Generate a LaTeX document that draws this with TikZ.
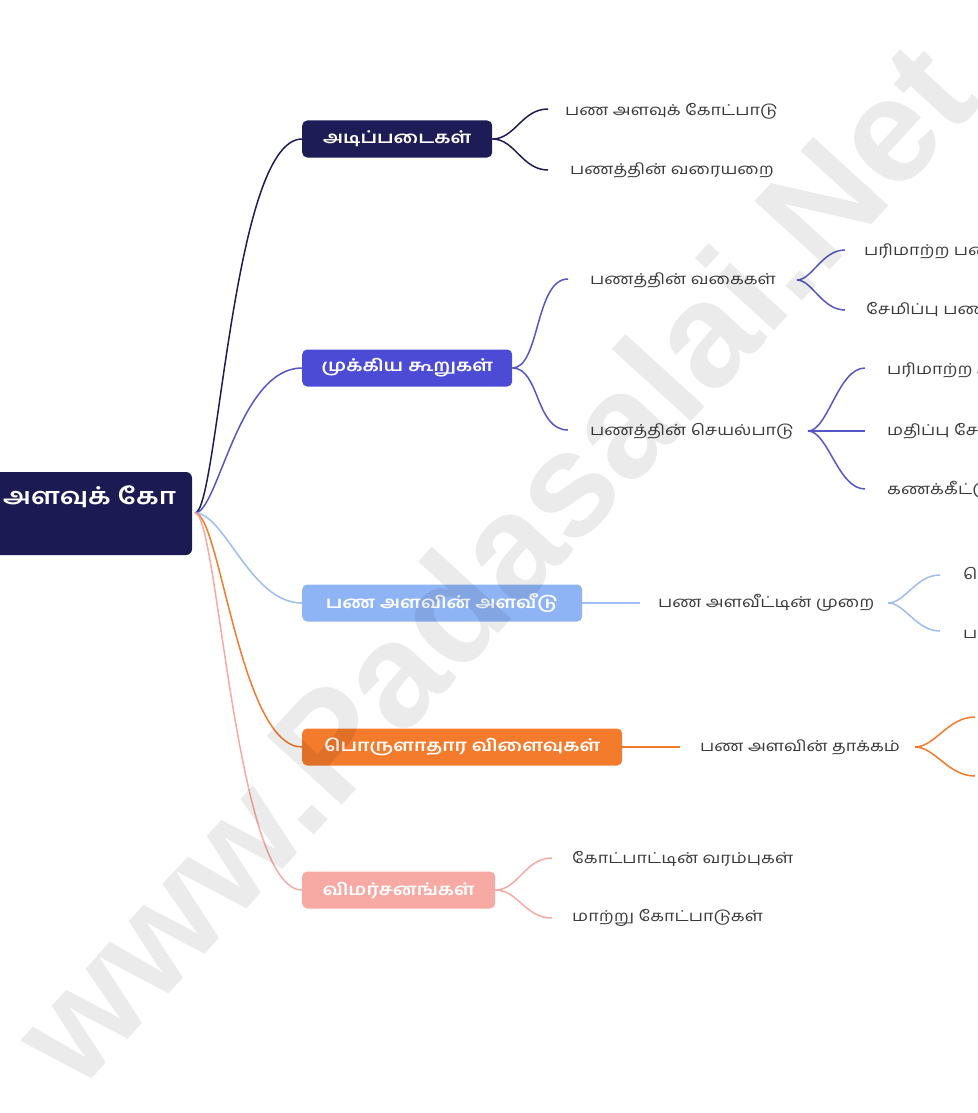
\documentclass[tikz,border=0pt]{standalone}
\usepackage{fontspec}
\setmainfont{Liberation Sans}
\newfontfamily\tam[Script=Tamil,FakeStretch=1.2]{Hind Madurai}
\newfontfamily\wmfont{Liberation Sans}
\definecolor{rootc}{HTML}{1C1A52}
\definecolor{cA}{HTML}{1E1C57}
\definecolor{cB}{HTML}{4B4BD6}
\definecolor{cBl}{HTML}{5656C8}
\definecolor{cC}{HTML}{8FB4F5}
\definecolor{cCl}{HTML}{9DBDF3}
\definecolor{cD}{HTML}{F47A2C}
\definecolor{cE}{HTML}{F7A9A3}
\definecolor{txtgray}{HTML}{3A3A3A}
\begin{document}
\begin{tikzpicture}[x=1pt,y=-1pt,
  box/.style={rounded corners=5pt, minimum height=37pt, text=white, anchor=west, inner sep=0pt,
    font=\tam\bfseries\fontsize{16.5}{16.5}\selectfont},
  leaf/.style={anchor=west, inner sep=0pt, text=txtgray, font=\tam\fontsize{15}{15}\selectfont},
  conn/.style={line width=1.5pt}]
\useasboundingbox (0,0) rectangle (977,1113);
\clip (0,0) rectangle (977,1113);
% root
\node[rounded corners=6pt, fill=rootc, minimum width=212pt, minimum height=83pt, inner sep=0pt] (root) at (86,513.5) {};
\node[anchor=west, inner sep=0pt, text=white, font=\tam\bfseries\fontsize{23}{23}\selectfont] (roottxt) at (3,497) {அளவுக் கோ};
\coordinate (rs) at (195,513);
% branch boxes
\node[box, fill=cA, minimum width=190pt] (b1) at (302,139) {அடிப்படைகள்};
\node[box, fill=cB, minimum width=210pt] (b2) at (302,368) {முக்கிய கூறுகள்};
\node[box, fill=cC, minimum width=280pt] (b3) at (302,603) {பண அளவின் அளவீடு};
\node[box, fill=cD, minimum width=320pt] (b4) at (302,747) {பொருளாதார விளைவுகள்};
\node[box, fill=cE, minimum width=193pt] (b5) at (302,890) {விமர்சனங்கள்};
% root connectors
\draw[conn, cA] (rs) .. controls (218,513) and (232,139) .. (b1.west);
\draw[conn, cBl] (rs) .. controls (218,513) and (238,368) .. (b2.west);
\draw[conn, cCl] (rs) .. controls (225,513) and (250,603) .. (b3.west);
\draw[conn, cD] (rs) .. controls (220,513) and (240,747) .. (b4.west);
\draw[conn, cE] (rs) .. controls (218,513) and (235,890) .. (b5.west);
% branch 1
\node[leaf] (l11) at (565,111) {பண அளவுக் கோட்பாடு};
\node[leaf] (l12) at (570,170) {பணத்தின் வரையறை};
\coordinate (e11) at (548,109);
\coordinate (e12) at (548,170);
\draw[conn, cA] (b1.east) .. controls (515,139) and (522,109) .. (e11);
\draw[conn, cA] (b1.east) .. controls (515,139) and (522,170) .. (e12);
% branch 2
\node[leaf] (m1) at (590,280) {பணத்தின் வகைகள்};
\node[leaf] (m2) at (590,431) {பணத்தின் செயல்பாடு};
\coordinate (e21) at (568,279);
\coordinate (e22) at (568,430);
\draw[conn, cBl] (b2.east) .. controls (540,368) and (535,279) .. (e21);
\draw[conn, cBl] (b2.east) .. controls (540,368) and (535,430) .. (e22);
\coordinate (s23) at (797,280);
\node[leaf] (n1) at (864,251) {பரிமாற்ற பணம்};
\node[leaf] (n2) at (866,310) {சேமிப்பு பணம்};
\coordinate (e23) at (845,250);
\coordinate (e24) at (845,310);
\draw[conn, cBl] (s23) .. controls (812,280) and (822,250) .. (e23);
\draw[conn, cBl] (s23) .. controls (812,280) and (822,310) .. (e24);
\coordinate (s25) at (808,431);
\node[leaf] (n3) at (887,370) {பரிமாற்ற ஊடகம்};
\node[leaf] (n4) at (887,431) {மதிப்பு சேமிப்பு};
\node[leaf] (n5) at (887,490) {கணக்கீட்டு அலகு};
\coordinate (e25) at (865,368);
\coordinate (e26) at (865,431);
\coordinate (e27) at (865,489);
\draw[conn, cBl] (s25) .. controls (828,431) and (838,368) .. (e25);
\draw[conn, cBl] (s25) -- (e26);
\draw[conn, cBl] (s25) .. controls (828,431) and (838,489) .. (e27);
% branch 3
\node[leaf] (m3) at (658,603) {பண அளவீட்டின் முறை};
\coordinate (e31) at (640,603);
\draw[conn, cCl] (b3.east) -- (e31);
\coordinate (s32) at (888,603);
\node[leaf] (n6) at (963,575) {பெருக்கம்};
\node[leaf] (n7) at (963,633) {பண வேகம்};
\coordinate (e32) at (940,575);
\coordinate (e33) at (940,631);
\draw[conn, cCl] (s32) .. controls (905,603) and (916,575) .. (e32);
\draw[conn, cCl] (s32) .. controls (905,603) and (916,631) .. (e33);
% branch 4
\node[leaf] (m4) at (700,747) {பண அளவின் தாக்கம்};
\coordinate (e41) at (680,747);
\draw[conn, cD] (b4.east) -- (e41);
\coordinate (s42) at (915,747);
\coordinate (e42) at (975,717);
\coordinate (e43) at (975,776);
\draw[conn, cD] (s42) .. controls (935,747) and (948,717) .. (e42);
\draw[conn, cD] (s42) .. controls (935,747) and (948,776) .. (e43);
% branch 5
\node[leaf] (l51) at (572,859) {கோட்பாட்டின் வரம்புகள்};
\node[leaf] (l52) at (572,918) {மாற்று கோட்பாடுகள்};
\coordinate (e51) at (552,858);
\coordinate (e52) at (552,918);
\draw[conn, cE] (b5.east) .. controls (518,890) and (525,858) .. (e51);
\draw[conn, cE] (b5.east) .. controls (518,890) and (525,918) .. (e52);
% watermark
\node[rotate=47.6, text=black, opacity=0.08, font=\wmfont\bfseries\fontsize{148}{148}\selectfont, inner sep=0pt] (wm) at (492,562) {www.Padasalai.Net};
\end{tikzpicture}
\end{document}
